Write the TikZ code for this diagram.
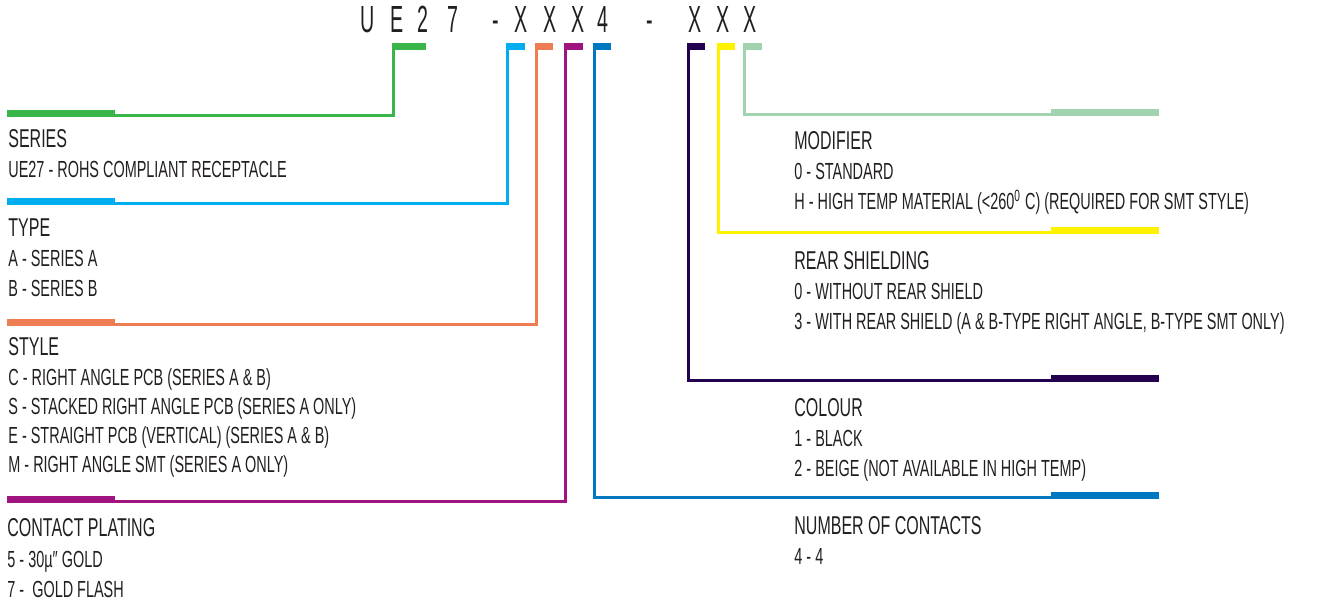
\documentclass[tikz,border=0pt]{standalone}
\usepackage{fontspec}
\setmainfont{Liberation Sans}[FakeStretch=0.62]
\newfontfamily\codefont{Liberation Sans}[FakeStretch=0.52]
\usetikzlibrary{positioning}

\definecolor{inktext}{RGB}{35,31,32}
\definecolor{seriesgreen}{RGB}{57,181,74}
\definecolor{typecyan}{RGB}{0,174,239}
\definecolor{styleorange}{RGB}{238,125,84}
\definecolor{platingmagenta}{RGB}{160,20,128}
\definecolor{contactsblue}{RGB}{0,120,193}
\definecolor{colourpurple}{RGB}{35,0,80}
\definecolor{rearyellow}{RGB}{255,242,0}
\definecolor{modifiermint}{RGB}{161,212,174}

\tikzset{
  link/.style={line width=1.5pt},
  head/.style={inner sep=0pt, anchor=base west, text=inktext, font=\fontsize{12.9}{15}\selectfont},
  items/.style={inner sep=0pt, anchor=base west, align=left, text=inktext, font=\fontsize{11.65}{15}\selectfont},
  code/.style={inner sep=0pt, anchor=base, text=inktext, font=\codefont\fontsize{18.9}{20}\selectfont}
}

\begin{document}
\begin{tikzpicture}[x=0.5pt, y=-0.5pt]
    \useasboundingbox (0,0) rectangle (1322,603);
    % part number
    \foreach \ch/\x [count=\i] in {U/368, E/397, 2/423, 7/452.5, -/495.5, X/521.5, X/550, X/578.5, 4/602.5, -/649.5, X/695, X/723.5, X/750}
        \node[code] (c\i) at (\x,33) {\ch};

    \coordinate (series-top) at (393.5,43);
    \coordinate (series-end) at (7,115.5);
    \coordinate (type-top) at (507.5,43);
    \coordinate (type-end) at (7,203.5);
    \coordinate (style-top) at (536,43);
    \coordinate (style-end) at (7,324.5);
    \coordinate (plating-top) at (565.5,43);
    \coordinate (plating-end) at (7,501.5);
    \coordinate (contacts-top) at (594,43);
    \coordinate (contacts-end) at (1159,498);
    \coordinate (colour-top) at (688,43);
    \coordinate (colour-end) at (1159,380.5);
    \coordinate (rear-top) at (718,43);
    \coordinate (rear-end) at (1159,232.5);
    \coordinate (modifier-top) at (744.5,43);
    \coordinate (modifier-end) at (1159,114.5);

    % left side
    \draw[link, seriesgreen] (series-top) |- (series-end);
    \fill[seriesgreen] (series-top) ++(-1.5,0) rectangle ++(34,7);
    \fill[seriesgreen] (series-end) ++(0,1.5) rectangle ++(108,-7);
    \draw[link, typecyan] (type-top) |- (type-end);
    \fill[typecyan] (type-top) ++(-1.5,0) rectangle ++(18.5,7);
    \fill[typecyan] (type-end) ++(0,1.5) rectangle ++(108,-7);
    \draw[link, styleorange] (style-top) |- (style-end);
    \fill[styleorange] (style-top) ++(-1.5,0) rectangle ++(18.5,7);
    \fill[styleorange] (style-end) ++(0,1.5) rectangle ++(108,-7);
    \draw[link, platingmagenta] (plating-top) |- (plating-end);
    \fill[platingmagenta] (plating-top) ++(-1.5,0) rectangle ++(18.5,7);
    \fill[platingmagenta] (plating-end) ++(0,1.5) rectangle ++(108,-7);

    % right side
    \draw[link, contactsblue] (contacts-top) |- (contacts-end);
    \fill[contactsblue] (contacts-top) ++(-1.5,0) rectangle ++(18.5,7);
    \fill[contactsblue] (contacts-end) ++(0,1.5) rectangle ++(-108,-7);
    \draw[link, colourpurple] (colour-top) |- (colour-end);
    \fill[colourpurple] (colour-top) ++(-1.5,0) rectangle ++(18.5,7);
    \fill[colourpurple] (colour-end) ++(0,1.5) rectangle ++(-108,-7);
    \draw[link, rearyellow] (rear-top) |- (rear-end);
    \fill[rearyellow] (rear-top) ++(-1.5,0) rectangle ++(18.5,7);
    \fill[rearyellow] (rear-end) ++(0,1.5) rectangle ++(-108,-7);
    \draw[link, modifiermint] (modifier-top) |- (modifier-end);
    \fill[modifiermint] (modifier-top) ++(-1.5,0) rectangle ++(18.5,7);
    \fill[modifiermint] (modifier-end) ++(0,1.5) rectangle ++(-108,-7);

    % descriptions (a list node sits on its last line)
    \node[head] (series) at (8,148) {SERIES};
    \node[below=15pt of series.base west, items] (series-list) {UE27 - ROHS COMPLIANT RECEPTACLE};
    \node[head] (type) at (8,237) {TYPE};
    \node[below=30pt of type.base west, items] (type-list) {A - SERIES A\\B - SERIES B};
    \node[head] (style) at (8,356) {STYLE};
    \node[below=58.5pt of style.base west, items, font=\fontsize{11.65}{14.5}\selectfont] (style-list) {C - RIGHT ANGLE PCB (SERIES A \& B)\\S - STACKED RIGHT ANGLE PCB (SERIES A ONLY)\\E - STRAIGHT PCB (VERTICAL) (SERIES A \& B)\\M - RIGHT ANGLE SMT (SERIES A ONLY)};
    \node[head] (plating) at (7,537) {CONTACT PLATING};
    \node[below=30pt of plating.base west, items] (plating-list) {5 - 30µ″ GOLD\\7 -\ \ GOLD FLASH};

    \node[head] (modifier) at (794,150) {MODIFIER};
    \node[below=30pt of modifier.base west, items] (modifier-list) {0 - STANDARD\\H - HIGH TEMP MATERIAL (<260\textsuperscript{0} C) (REQUIRED FOR SMT STYLE)};
    \node[head] (rear) at (794,270) {REAR SHIELDING};
    \node[below=30pt of rear.base west, items] (rear-list) {0 - WITHOUT REAR SHIELD\\3 - WITH REAR SHIELD (A \& B-TYPE RIGHT ANGLE, B-TYPE SMT ONLY)};
    \node[head] (colour) at (794,417) {COLOUR};
    \node[below=30pt of colour.base west, items] (colour-list) {1 - BLACK\\2 - BEIGE (NOT AVAILABLE IN HIGH TEMP)};
    \node[head] (contacts) at (794,535) {NUMBER OF CONTACTS};
    \node[below=15pt of contacts.base west, items] (contacts-list) {4 - 4};
\end{tikzpicture}
\end{document}
